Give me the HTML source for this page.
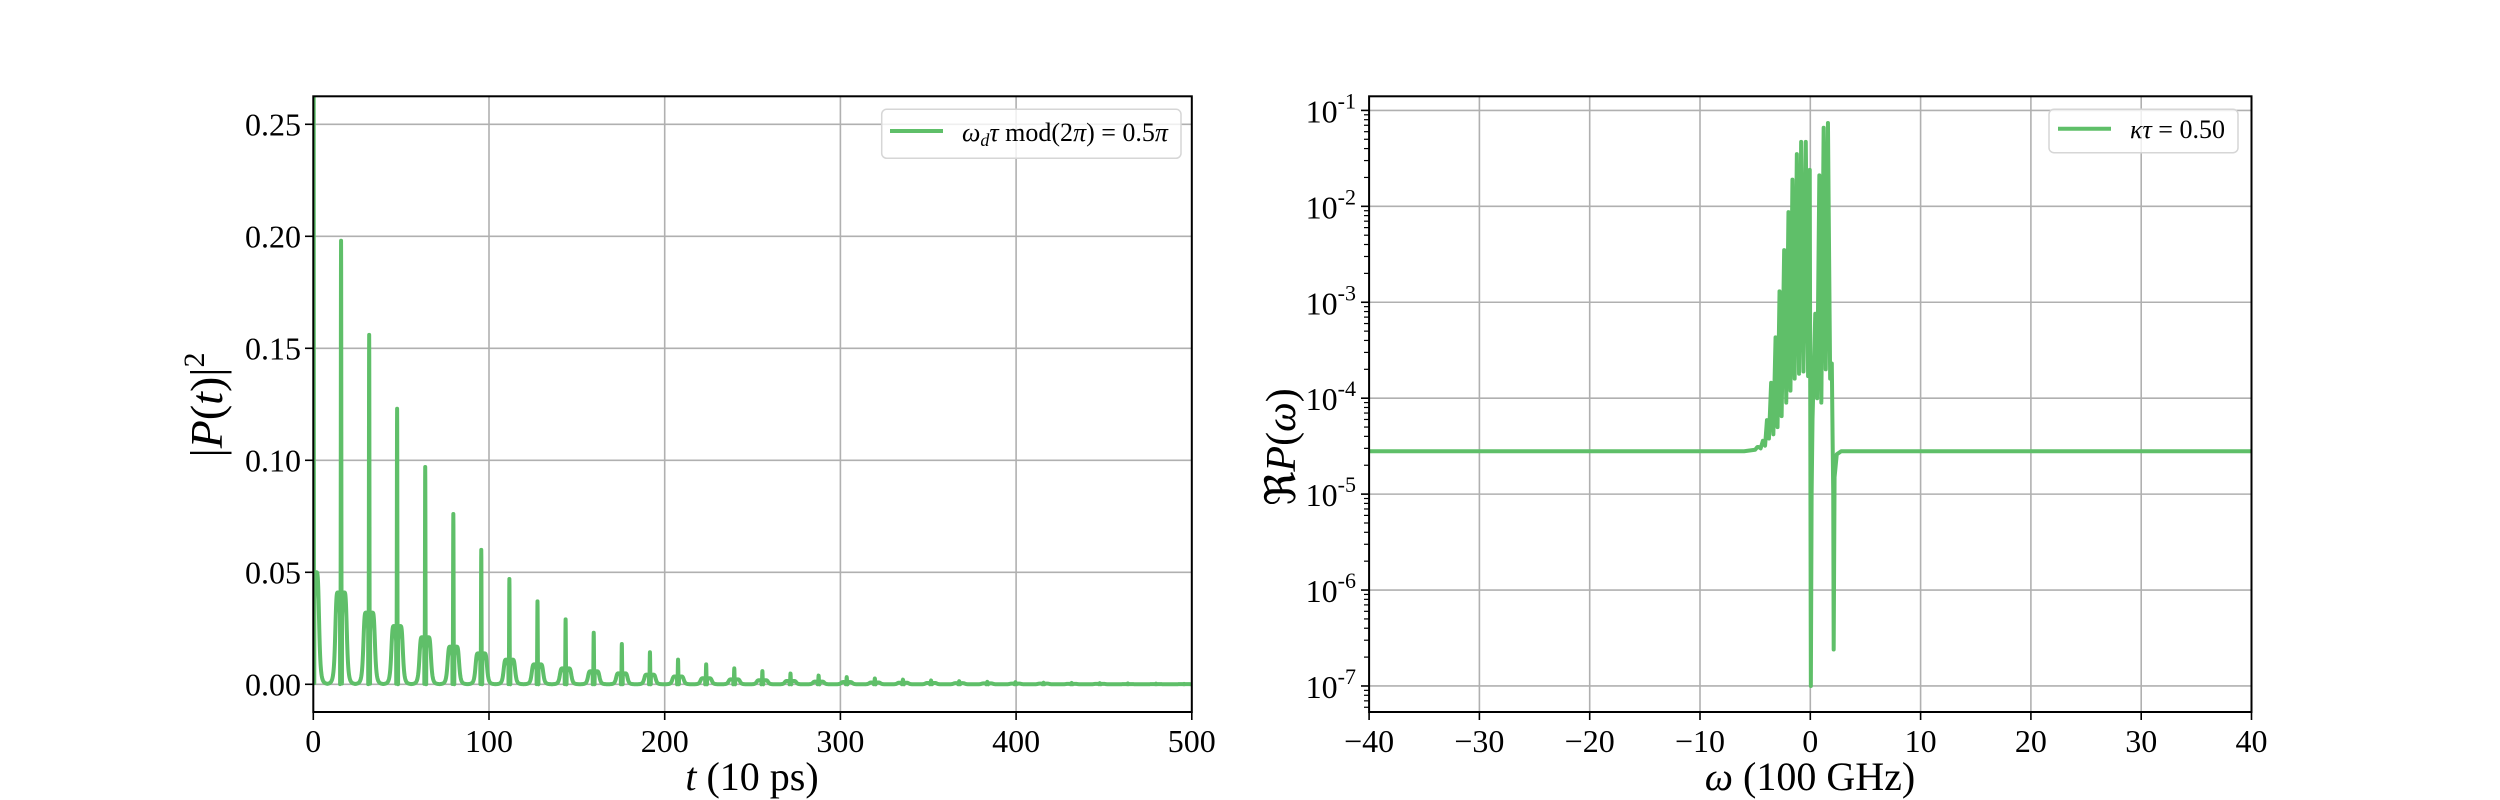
<!DOCTYPE html>
<html><head><meta charset="utf-8"><style>
html,body{margin:0;padding:0;background:#fff;}
svg{display:block;font-family:"Liberation Serif","DejaVu Serif",serif;}
</style></head><body>
<svg id="fig" width="2500" height="800" viewBox="0 0 2500 800" xmlns="http://www.w3.org/2000/svg">
<defs>
<clipPath id="clipL"><rect x="313.3" y="96.3" width="878.5" height="615.7"/></clipPath>
<clipPath id="clipR"><rect x="1369.1" y="96.3" width="882.4" height="615.7"/></clipPath>
</defs>
<g id="left"></g>
<g id="right"></g>
</svg>
<script>
// ---------- Left panel data ----------
const groupTimes = [0,15.8,31.8,47.7,63.7,79.7,95.6,111.6,127.6,143.6,159.6,175.6,191.6,207.6,223.6,239.6,255.6,271.6,287.6,303.6,319.6,335.6,351.6,367.6,383.6,399.6,415.6,431.6,447.6,463.6,479.6,495.6];
const peakHeights = [1.0,0.198,0.156,0.123,0.097,0.076,0.060,0.047,0.037,0.029,0.023,0.018,0.0143,0.011,0.0089,0.0071,0.0059,0.0048,0.0039,0.0032,0.0026,0.0021,0.0017,0.0014,0.0011,0.0009,0.0007,0.0006,0.0005,0.0004,0.0003,0.0002];
const sideHeights = [0.050,0.041,0.032,0.026,0.021,0.0168,0.0138,0.011,0.0089,0.0071,0.0058,0.0049,0.0043,0.0035,0.0027,0.0022,0.0018,0.0015,0.0012,0.001,0.0008,0.0007,0.0006,0.0005,0.0004,0.0003,0.0003,0.0002,0.0002,0.0001,0.0001,0.0001];
const xTicksL = [0,100,200,300,400,500];
const yTicksL = [0.00,0.05,0.10,0.15,0.20,0.25];
const yTickLabelsL = ["0.00","0.05","0.10","0.15","0.20","0.25"];

// ---------- Right panel data ----------
const specOmega = [-40,-6,-5,-4.8,-4.69,-4.5,-4.3,-4.1,-3.93,-3.75,-3.55,-3.35,-3.15,-2.97,-2.79,-2.6,-2.37,-2.18,-1.98,-1.8,-1.62,-1.42,-1.22,-1.02,-0.83,-0.62,-0.41,-0.2,-0.05,0.0,0.05,0.12,0.2,0.45,0.62,0.82,1.0,1.21,1.4,1.6,1.8,1.95,2.02,2.08,2.12,2.2,2.4,2.8,40];
const specValues = [2.8e-5,2.8e-5,2.9e-5,3.1e-5,3.1e-5,3.0e-5,3.6e-5,3.2e-5,5.9e-5,3.8e-5,1.45e-4,4.2e-5,4.3e-4,5.0e-5,1.3e-3,6.5e-5,3.5e-3,9e-5,8.7e-3,1.2e-4,1.9e-2,1.6e-4,3.5e-2,1.8e-4,4.7e-2,1.9e-4,4.7e-2,1.7e-4,2.4e-2,5e-5,1e-7,1e-5,6e-5,7.6e-4,1e-4,2.1e-2,9e-5,6.6e-2,2.0e-4,7.4e-2,1.6e-4,2.3e-4,4e-5,1e-5,2.4e-7,1.5e-5,2.6e-5,2.8e-5,2.8e-5];
const xTicksR = [-40,-30,-20,-10,0,10,20,30,40];
const xTickLabelsR = ["\u221240","\u221230","\u221220","\u221210","0","10","20","30","40"];
const yDecadesR = [-7,-6,-5,-4,-3,-2,-1];

const NS = "http://www.w3.org/2000/svg";
const COLOR = "#5fbf69";
function mk(tag, attrs, parent){const e=document.createElementNS(NS,tag);for(const k in attrs)e.setAttribute(k,attrs[k]);parent.appendChild(e);return e;}

const xL = t => 313.3 + t*1.757;
const yL = v => 684.3 - v*2240;
const xR = w => 1810.3 + w*11.03;
const yR = v => 110.4 - (Math.log10(v)+1)*95.93;

const L = document.getElementById('left');
const R = document.getElementById('right');

xTicksL.forEach(t=>{
  const g = mk('line',{x1:xL(t),x2:xL(t),y1:96.3,y2:712,stroke:'#b0b0b0','stroke-width':1.6},L);
  
  
});
yTicksL.forEach(v=>{
  const g = mk('line',{x1:313.3,x2:1191.8,y1:yL(v),y2:yL(v),stroke:'#b0b0b0','stroke-width':1.6},L);
  
  
});

function groupVal(dt, hp, hs){
  const a = Math.abs(dt);
  if (a < 0.55) return hp*Math.exp(-Math.pow(dt/0.2,2));
  return hs/(1+Math.pow((a-1.8)/1.6,4));
}
let d = "";
for (let t=0; t<=500; t+=0.05){
  let bi=0, bd=1e9;
  groupTimes.forEach((gt,i)=>{const dd=Math.abs(t-gt); if(dd<bd){bd=dd;bi=i;}});
  const v = groupVal(t-groupTimes[bi], peakHeights[bi], sideHeights[bi]);
  d += (d?"L":"M") + xL(t).toFixed(2) + "," + yL(v).toFixed(2);
}
const lineL = mk('path',{d:d,fill:'none',stroke:COLOR,'stroke-width':4,'stroke-linejoin':'round','clip-path':'url(#clipL)'},L);



const spL = mk('rect',{x:313.3,y:96.3,width:878.5,height:615.7,fill:'none',stroke:'#000','stroke-width':2},L);


xTicksL.forEach(t=>{
  mk('line',{x1:xL(t),x2:xL(t),y1:712,y2:720,stroke:'#000','stroke-width':1.6},L);
  const tx = mk('text',{x:xL(t),y:752,'font-size':32,'text-anchor':'middle'},L);
  tx.textContent = t;
  
  
});
yTicksL.forEach((v,i)=>{
  mk('line',{x1:305,x2:313.3,y1:yL(v),y2:yL(v),stroke:'#000','stroke-width':1.6},L);
  const tx = mk('text',{x:301,y:yL(v)+11,'font-size':32,'text-anchor':'end'},L);
  tx.textContent = yTickLabelsL[i];
  
  
});
const xlabL = mk('text',{x:752,y:790,'font-size':40,'text-anchor':'middle'},L);
xlabL.innerHTML = '<tspan font-style="italic">t</tspan> (10 ps)';


const ylabL = mk('text',{x:0,y:0,'font-size':46,'text-anchor':'middle',transform:'translate(222,405) rotate(-90)'},L);
ylabL.innerHTML = '|<tspan font-style="italic">P</tspan>(<tspan font-style="italic">t</tspan>)|<tspan font-size="30" dy="-18">2</tspan>';



const lgL = mk('g',{},L);


mk('rect',{x:881.7,y:109.3,width:299.3,height:49,rx:5,fill:'#fff','fill-opacity':0.8,stroke:'#d6d6d6','stroke-width':1.5},lgL);
mk('line',{x1:890,x2:943,y1:131,y2:131,stroke:COLOR,'stroke-width':4},lgL);
const lt = mk('text',{x:962,y:141,'font-size':26},lgL);
lt.innerHTML = '<tspan font-style="italic">ω</tspan><tspan font-style="italic" font-size="18" dy="5">d</tspan><tspan font-style="italic" dy="-5">τ</tspan> mod(2<tspan font-style="italic">π</tspan>) = 0.5<tspan font-style="italic">π</tspan>';

xTicksR.forEach(w=>{
  const g = mk('line',{x1:xR(w),x2:xR(w),y1:96.3,y2:712,stroke:'#b0b0b0','stroke-width':1.6},R);
  
  
});
yDecadesR.forEach(e=>{
  const v = Math.pow(10,e);
  const g = mk('line',{x1:1369.1,x2:2251.5,y1:yR(v),y2:yR(v),stroke:'#b0b0b0','stroke-width':1.6},R);
  
  
});

let d2 = "";
specOmega.forEach((w,i)=>{ d2 += (i?"L":"M") + xR(w).toFixed(2) + "," + yR(specValues[i]).toFixed(2); });
const lineR = mk('path',{d:d2,fill:'none',stroke:COLOR,'stroke-width':4,'stroke-linejoin':'round','clip-path':'url(#clipR)'},R);



const spR = mk('rect',{x:1369.1,y:96.3,width:882.4,height:615.7,fill:'none',stroke:'#000','stroke-width':2},R);


xTicksR.forEach((w,i)=>{
  mk('line',{x1:xR(w),x2:xR(w),y1:712,y2:720,stroke:'#000','stroke-width':1.6},R);
  const tx = mk('text',{x:xR(w),y:752,'font-size':32,'text-anchor':'middle'},R);
  tx.textContent = xTickLabelsR[i];
  
  
});
for (let e=-8; e<=-1; e++){
  for (let m=2; m<=9; m++){
    const y = yR(m*Math.pow(10,e));
    if (y>96.3 && y<712) mk('line',{x1:1364,x2:1369.1,y1:y,y2:y,stroke:'#000','stroke-width':1.2},R);
  }
}
yDecadesR.forEach(e=>{
  const y = yR(Math.pow(10,e));
  mk('line',{x1:1361,x2:1369.1,y1:y,y2:y,stroke:'#000','stroke-width':1.6},R);
  const tx = mk('text',{x:1356,y:y+12,'font-size':32,'text-anchor':'end'},R);
  tx.innerHTML = '10<tspan font-size="22" dy="-14">' + e + '</tspan>';
  
  
});
const xlabR = mk('text',{x:1810,y:790,'font-size':40,'text-anchor':'middle'},R);
xlabR.innerHTML = '<tspan font-style="italic">ω</tspan> (100 GHz)';


const ylabR = mk('text',{x:0,y:0,'font-size':42,'text-anchor':'middle',transform:'translate(1295,447) rotate(-90)'},R);
ylabR.innerHTML = 'ℜ<tspan font-style="italic">P</tspan>(<tspan font-style="italic">ω</tspan>)';



const lgR = mk('g',{},R);


mk('rect',{x:2049,y:109.3,width:189,height:43.4,rx:5,fill:'#fff','fill-opacity':0.8,stroke:'#d6d6d6','stroke-width':1.5},lgR);
mk('line',{x1:2058,x2:2111,y1:128.7,y2:128.7,stroke:COLOR,'stroke-width':4},lgR);
const rt = mk('text',{x:2130,y:138,'font-size':26},lgR);
rt.innerHTML = '<tspan font-style="italic">κτ</tspan> = 0.50';
</script>
</body></html>
